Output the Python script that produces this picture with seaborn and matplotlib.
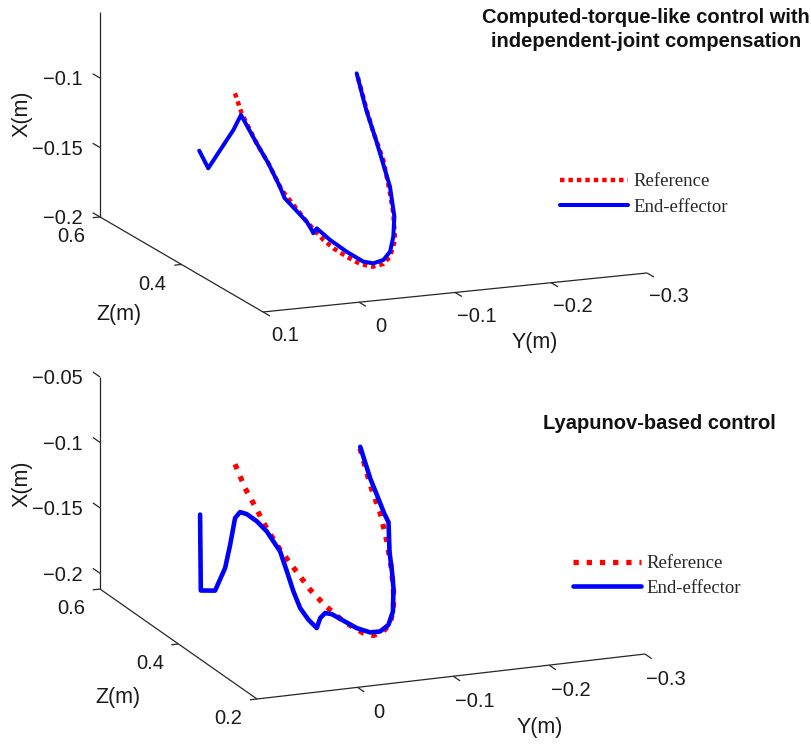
import matplotlib
matplotlib.use("Agg")
import matplotlib.pyplot as plt
import seaborn as sns
from matplotlib.lines import Line2D
from matplotlib.font_manager import FontProperties
from mpl_toolkits.mplot3d import proj3d

# ---------------- data (metres): Y horizontal, Z depth, X vertical ----------------
# Top panel: computed-torque-like control
top_ref_y = [0.0103, 0.0081, 0.0031, -0.0008, -0.0053, -0.0097, -0.0136, -0.0192, -0.0226,
             -0.0270, -0.0315, -0.0355, -0.0476, -0.0573, -0.0687, -0.0768, -0.0807, -0.0860,
             -0.0860, -0.0872, -0.0903]
top_ref_z = [0.480, 0.469, 0.444, 0.4245, 0.402, 0.380, 0.3605, 0.333, 0.316,
             0.294, 0.272, 0.250, 0.2526, 0.259, 0.2735, 0.2967, 0.314, 0.343,
             0.368, 0.3865, 0.418]
top_ref_x = [-0.0968, -0.1094, -0.1271, -0.1384, -0.1542, -0.1627, -0.1704, -0.1792, -0.1826,
             -0.1852, -0.1869, -0.1855, -0.1848, -0.1813, -0.1726, -0.1579, -0.1468, -0.1281,
             -0.1120, -0.0997, -0.0790]

top_ee_y = [0.0223, 0.0193, 0.0109, 0.0083, 0.0031, -0.0008, -0.0046, -0.0063, -0.0136,
            -0.0153, -0.0158, -0.0170, -0.0215, -0.0270, -0.0326, -0.0361, -0.0492, -0.0592,
            -0.0681, -0.0766, -0.0831, -0.0845, -0.0858, -0.0867, -0.0903]
top_ee_z = [0.5395, 0.5245, 0.4828, 0.470, 0.444, 0.4245, 0.4058, 0.3975, 0.3605,
            0.3522, 0.3495, 0.3438, 0.3217, 0.2938, 0.2662, 0.250, 0.2561, 0.2633,
            0.2763, 0.2937, 0.3198, 0.3402, 0.3604, 0.3865, 0.4184]
top_ee_x = [-0.1474, -0.1577, -0.1237, -0.1108, -0.1271, -0.1384, -0.1519, -0.1592, -0.1704,
            -0.1751, -0.1770, -0.1726, -0.1775, -0.1816, -0.1844, -0.1831, -0.1826, -0.1786,
            -0.1706, -0.1598, -0.1432, -0.1299, -0.1167, -0.0996, -0.0790]

# Bottom panel: Lyapunov-based control
bot_ref_y = [0.0132, 0.0096, 0.0053, 0.0014, -0.0031, -0.0085, -0.0139, -0.0193, -0.0260,
             -0.0332, -0.0370, -0.0489, -0.0591, -0.0680, -0.0754, -0.0813, -0.0858, -0.0893,
             -0.0893, -0.0923]
bot_ref_z = [0.480, 0.4633, 0.4438, 0.4262, 0.405, 0.380, 0.355, 0.330, 0.2995,
             0.2662, 0.250, 0.2536, 0.2611, 0.2746, 0.2926, 0.3137, 0.3347, 0.3602,
             0.3858, 0.4203]
bot_ref_x = [-0.0992, -0.1143, -0.1270, -0.1390, -0.1502, -0.1607, -0.1711, -0.1784, -0.1848,
             -0.1873, -0.1860, -0.1847, -0.1809, -0.1730, -0.1622, -0.1493, -0.1362, -0.1204,
             -0.1040, -0.0823]

bot_ee_y = [0.0258, 0.0255, 0.0204, 0.0167, 0.0149, 0.0132, 0.0114, 0.0090, 0.0053,
            0.0017, -0.0031, -0.0056, -0.0079, -0.0104, -0.0133, -0.0163, -0.0176, -0.0193,
            -0.0218, -0.0260, -0.0308, -0.0356, -0.0455, -0.0566, -0.0662, -0.0754, -0.0800,
            -0.0848, -0.0946, -0.0934, -0.0926, -0.0917, -0.0930]
bot_ee_z = [0.5383, 0.5372, 0.5133, 0.4967, 0.4883, 0.480, 0.4717, 0.4605, 0.4438,
            0.4272, 0.405, 0.3938, 0.3828, 0.3717, 0.3578, 0.3438, 0.3383, 0.330,
            0.3188, 0.2995, 0.2772, 0.255, 0.2536, 0.2596, 0.2716, 0.2926, 0.3077,
            0.3257, 0.3521, 0.3602, 0.3768, 0.3917, 0.4203]
bot_ee_x = [-0.1489, -0.2067, -0.2022, -0.1817, -0.1623, -0.1404, -0.1342, -0.1336, -0.1359,
            -0.1405, -0.1515, -0.1646, -0.1778, -0.1884, -0.1946, -0.1983, -0.1896, -0.1842,
            -0.1829, -0.1842, -0.1856, -0.1846, -0.1844, -0.1816, -0.1748, -0.1622, -0.1530,
            -0.1420, -0.1259, -0.1207, -0.1100, -0.1004, -0.0824]

# axis ticks / labels
top_xticks = [-0.2, -0.15, -0.1]
top_zticks = [0.4, 0.6]
top_yticks = [0.1, 0, -0.1, -0.2, -0.3]
bot_xticks = [-0.2, -0.15, -0.1, -0.05]
bot_zticks = [0.2, 0.4, 0.6]
bot_yticks = [0, -0.1, -0.2, -0.3]
legend_labels = ["Reference", "End-effector"]
titles = ["Computed-torque-like control with\nindependent-joint compensation",
          "Lyapunov-based control"]

# ---------------- style ----------------
sns.set_theme(style="white")
plt.rcParams["font.family"] = ["Liberation Sans", "DejaVu Sans"]
red, blue = sns.color_palette(["#ff0000", "#0000ff"])
axis_color = "#262626"
text_color = "#1a1a1a"

W, H = 811, 744
fig = plt.figure(figsize=(W / 100, H / 100), dpi=100)
fig.patch.set_facecolor("white")


def fx(p):
    return p / W


def fy(p):
    return 1 - p / H


def fmt(v):
    return f"{v:g}".replace("-", "\u2212")


def panel(rect, elev, azim, aspect, zoom, ylims, zlims, xlims,
          xticks, zticks, yticks, ref, ee, ref_lw, ref_dash, ee_lw):
    ax = fig.add_axes(rect, projection="3d", computed_zorder=False)
    ax.set_proj_type("ortho")
    ax.view_init(elev=elev, azim=azim)
    ax.set_box_aspect(aspect, zoom=zoom)
    ymax, ymin = ylims
    zmin, zmax = zlims
    xmin, xmax = xlims
    ax.set_xlim(ymax, ymin)
    ax.set_ylim(zmin, zmax)
    ax.set_zlim(xmin, xmax)
    ax.set_xticks([])
    ax.set_yticks([])
    ax.set_zticks([])
    ax.set_axis_off()
    ax.patch.set_visible(False)
    M = ax.get_proj()

    def label(y, z, x, s, **kw):
        px, py, _ = proj3d.proj_transform(y, z, x, M)
        ax.text2D(px, py, s, transform=ax.transData, fontsize=14.5,
                  color=text_color, **kw)

    kw = dict(color=axis_color, lw=0.9, clip_on=False, solid_capstyle="butt")
    ax.plot([ymax, ymax], [zmax, zmax], [xmin, xmax], **kw)
    ax.plot([ymax, ymax], [zmin, zmax], [xmin, xmin], **kw)
    ax.plot([ymax, ymin], [zmin, zmin], [xmin, xmin], **kw)
    for t in xticks:
        ax.plot([ymax, ymax], [zmax, zmax + 0.018], [t, t], **kw)
        label(ymax + 0.018, zmax, t, fmt(t), ha="right", va="center")
    for t in zticks:
        ax.plot([ymax, ymax + 0.0075], [t, t], [xmin, xmin], **kw)
        label(ymax + 0.030, t, xmin - 0.012, fmt(t), ha="center", va="center")
    for t in yticks:
        ax.plot([t, t], [zmin, zmin - 0.017], [xmin, xmin], **kw)
        label(t, zmin - 0.054, xmin - 0.008, fmt(t), ha="center", va="center")

    ax.plot(ref[0], ref[1], ref[2], color=red, lw=ref_lw, ls=(0, ref_dash),
            clip_on=False, zorder=3, label=legend_labels[0])
    ax.plot(ee[0], ee[1], ee[2], color=blue, lw=ee_lw, clip_on=False,
            zorder=4, solid_joinstyle="round", label=legend_labels[1])
    return ax


S = 600
ax_top = panel([fx(65.4), fy(450.6), S / W, S / H], 14.08, -112.66,
               (416.1, 423.2, 211.3), 1.0193, (0.1, -0.3), (0.2, 0.6), (-0.2, -0.0525),
               top_xticks, top_zticks, top_yticks,
               (top_ref_y, top_ref_z, top_ref_x), (top_ee_y, top_ee_z, top_ee_x),
               3.2, (1, 0.9), 2.9)
ax_bot = panel([fx(64.4), fy(823.6), S / W, S / H], 16.56, -112.14,
               (418.9, 416.6, 221.2), 1.0207, (0.105, -0.3), (0.2, 0.6), (-0.212, -0.05),
               bot_xticks, bot_zticks, bot_yticks,
               (bot_ref_y, bot_ref_z, bot_ref_x), (bot_ee_y, bot_ee_z, bot_ee_x),
               3.8, (1, 1.5), 3.3)

# legends
lfont = FontProperties(family="Liberation Serif", size=13.5)
for (lx, ly), rl, rd, el, sp in [((560, 173), 3.2, (1, 0.9), 2.9, 0.45),
                                  ((573, 555), 3.8, (1, 1.5), 3.3, 0.40)]:
    handles = [Line2D([], [], color=red, lw=rl, ls=(0, rd)),
               Line2D([], [], color=blue, lw=el)]
    fig.legend(handles, legend_labels, loc="upper left",
               bbox_to_anchor=(fx(lx), fy(ly)), frameon=False, prop=lfont,
               handlelength=3.6, handletextpad=0.3, borderpad=0, borderaxespad=0,
               labelspacing=sp)

# titles
fig.text(fx(646), fy(29.5), titles[0], ha="center", va="center", fontsize=14.5,
         fontweight="bold", linespacing=1.3, color="#111111")
fig.text(fx(659), fy(423), titles[1], ha="center", va="center", fontsize=14.5,
         fontweight="bold", color="#111111")

# axis labels
lfs = 15.5
for (x, y) in [(22, 114), (22, 484)]:
    fig.text(fx(x), fy(y), "X(m)", rotation=90, ha="center", va="center",
             fontsize=lfs, color=text_color)
for (x, y) in [(119, 315), (118, 697)]:
    fig.text(fx(x), fy(y), "Z(m)", ha="center", va="center", fontsize=lfs, color=text_color)
for (x, y) in [(535, 343), (540, 728)]:
    fig.text(fx(x), fy(y), "Y(m)", ha="center", va="center", fontsize=lfs, color=text_color)

fig.savefig("out.png", dpi=100, facecolor="white")
